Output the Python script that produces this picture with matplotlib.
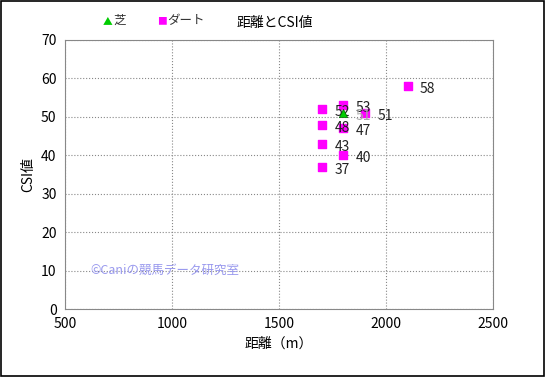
import matplotlib.pyplot as plt
from matplotlib.patches import Rectangle

plt.rcParams['font.family'] = ['Noto Sans CJK JP', 'DejaVu Sans']

# data
turf_dist = [1800]
turf_csi = [51]
dirt_dist = [1700, 1800, 1900, 2100, 1700, 1800, 1700, 1800, 1700]
dirt_csi = [52, 53, 51, 58, 48, 47, 43, 40, 37]

fig = plt.figure(figsize=(5.45, 3.77), dpi=100)
ax = fig.add_axes([0.119, 0.180, 0.786, 0.714])

ax.scatter(dirt_dist, dirt_csi, marker='s', s=30, color='#ff00ff', zorder=3)
ax.scatter(turf_dist, turf_csi, marker='^', s=36, color='#00cc00',
           edgecolor='#006600', linewidth=0.5, zorder=4)

for x, y in zip(dirt_dist, dirt_csi):
    ax.annotate(str(y), (x, y), xytext=(9, -5), textcoords='offset points',
                fontsize=10, color='#222222')
for x, y in zip(turf_dist, turf_csi):
    ax.annotate(str(y), (x, y), xytext=(9, -5), textcoords='offset points',
                fontsize=10, color='#aaaaaa')

ax.set_xlim(500, 2500)
ax.set_ylim(0, 70)
ax.set_xticks(range(500, 2501, 500))
ax.set_yticks(range(0, 71, 10))
ax.grid(True, ls=':', color='#888888', lw=0.8)
ax.set_axisbelow(True)
for s in ax.spines.values():
    s.set_color('#888888')
ax.tick_params(length=0, labelsize=10, pad=6)

ax.set_xlabel('距離（m）', fontsize=10)
ax.set_ylabel('CSI値', fontsize=10)

fig.text(0.505, 0.94, '距離とCSI値', ha='center', va='center', fontsize=10)
# legend row
fig.text(0.188, 0.945, '▲', color='#00cc00', fontsize=7, va='center')
fig.text(0.208, 0.945, '芝', fontsize=9, va='center', color='#333333')
fig.text(0.288, 0.945, '■', color='#ff00ff', fontsize=7, va='center')
fig.text(0.306, 0.945, 'ダート', fontsize=9, va='center', color='#333333')

ax.text(620, 10, '©Caniの競馬データ研究室', fontsize=9, color='#9999ee', va='center')

fig.add_artist(Rectangle((0.002, 0.003), 0.996, 0.994, transform=fig.transFigure,
                         fill=False, edgecolor='black', lw=1.2))

fig.savefig('out.png', dpi=100)
